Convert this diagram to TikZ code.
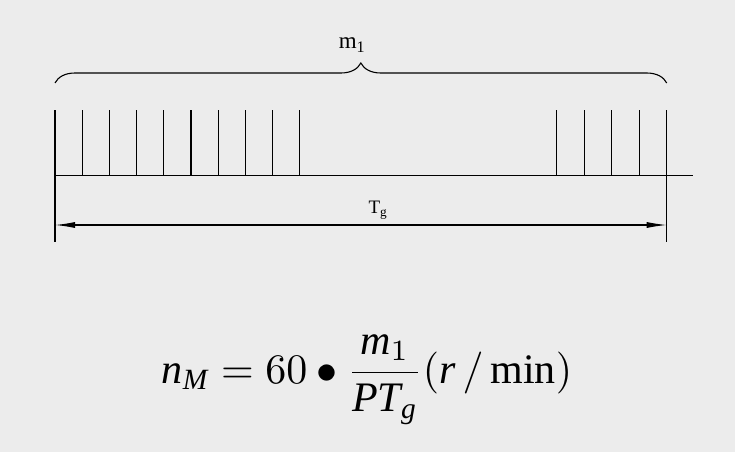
\documentclass[tikz,border=0pt]{standalone}
\usepackage{amsmath}
\usepackage{fontspec}
\setmainfont{Liberation Serif}
\usetikzlibrary{arrows.meta, decorations.pathreplacing}

\definecolor{screen}{RGB}{236,236,236}

\begin{document}
\begin{tikzpicture}[x=1pt, y=-1pt, >={Latex[length=20pt,width=6pt]}, line width=1.1pt]
  \fill [screen] (0,0) rectangle (735,452);
  % pulse train
  \draw (55,175.7) -- (693,175.7);
  \foreach \i in {0,...,9}
    \draw (55+27.2*\i,110) -- (55+27.2*\i,175.7);
  \foreach \i in {0,...,4}
    \draw (556.7+27.5*\i,110) -- (556.7+27.5*\i,175.7);
  \draw (55,175.7) -- (55,242);
  \draw (666.7,175.7) -- (666.7,242);
  % brace and counting period
  \coordinate (bl) at (55,83);
  \coordinate (br) at (666.7,83);
  \draw [decorate, decoration={brace, amplitude=20pt}] (bl) -- (br);
  \node (m1) at (352,45) {\fontsize{23}{26}\selectfont m\textsubscript{1}};
  \coordinate (al) at (55,225);
  \coordinate (ar) at (666.7,225);
  \draw [<->] (al) -- (ar);
  \node (tg) at (378,210) {\fontsize{19}{22}\selectfont T\textsubscript{g}};
  % formula
  \node (eq) [anchor=base, scale=4.2] at (367,383)
    {$\displaystyle \mathit{n}_{\mathit{M}} = 60\bullet\frac{\mathit{m}_1}{\mathit{PT}_{\mathit{g}}}(\mathit{r}\,/\,\mathrm{min})$};
\end{tikzpicture}
\end{document}
